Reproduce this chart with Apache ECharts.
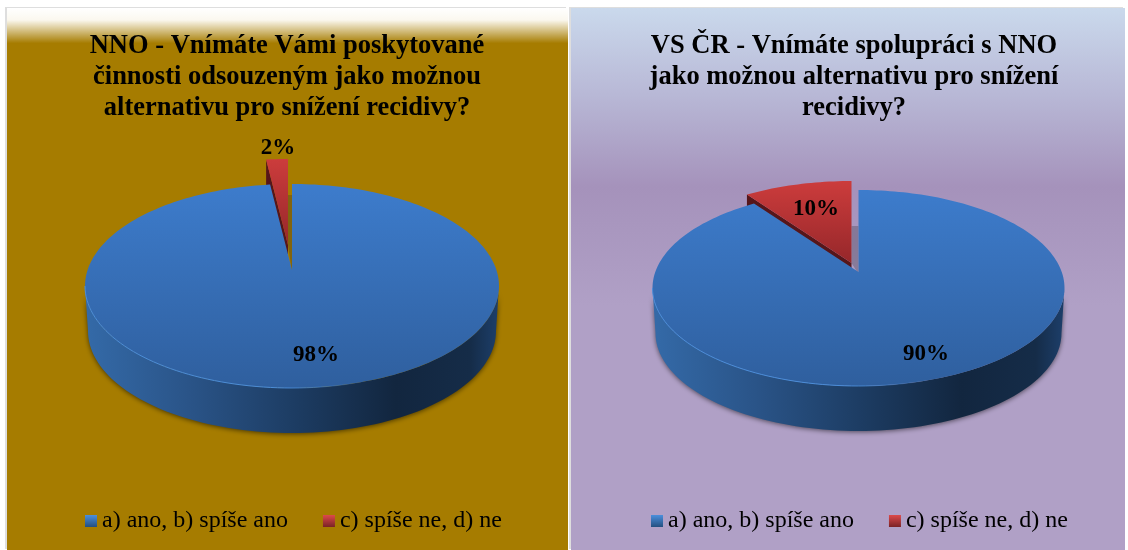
<!DOCTYPE html>
<html>
<head>
<meta charset="utf-8">
<title>NNO / VS ČR</title>
<script src="https://cdn.jsdelivr.net/npm/echarts@6/dist/echarts.min.js"></script>
<style>
  html, body { margin: 0; padding: 0; background: #fff; }
  .panel { position: absolute; top: 8px; height: 542px; box-shadow: -2px -1px 0 #dedede; }
  #nno { left: 7px; width: 561px; }
  #vs { left: 571px; width: 554px; }
</style>
</head>
<body>
<div id="nno" class="panel"></div>
<div id="vs" class="panel"></div>
<script>
// kategorie a hodnoty
const categories = ['a) ano, b) spíše ano', 'c) spíše ne, d) ne']
const nnoValues = [98, 2]
const vsValues = [90, 10]
const nnoTitle = 'NNO - Vnímáte Vámi poskytované\nčinnosti odsouzeným jako možnou\nalternativu pro snížení recidivy?'
const vsTitle = 'VS ČR - Vnímáte spolupráci s NNO\njako možnou alternativu pro snížení\nrecidivy?'

const FONT = '"Liberation Serif", "Times New Roman", serif'

const vGrad = (a, b) => ({ type: 'linear', x: 0, y: 0, x2: 0, y2: 1, colorStops: [{ offset: 0, color: a }, { offset: 1, color: b }] })

// bod na okraji elipsy pro daný úhel (0 = nahoře, po směru hodin), střed výseče je kvůli perspektivě nad středem elipsy
const rimPoint = (deg, p, cx, cy) => {
  const a = deg * Math.PI / 180
  const dx = Math.sin(a) * p.rx
  const dy = -Math.cos(a) * p.ry
  const A = (dx * dx) / (p.rx * p.rx) + (dy * dy) / (p.ry * p.ry)
  const B = 2 * dy * p.apexUp * -1 / (p.ry * p.ry)
  const C = (p.apexUp * p.apexUp) / (p.ry * p.ry) - 1
  const t = (-B + Math.sqrt(B * B - 4 * A * C)) / (2 * A)
  return [cx + dx * t, cy - p.apexUp + dy * t]
}

const arcPoints = (from, to, p, cx, cy) => {
  const pts = []
  for (let d = from; d <= to + 0.001; d += 1.5) pts.push(rimPoint(Math.min(d, to), p, cx, cy))
  pts.push(rimPoint(to, p, cx, cy))
  return pts
}

const ellipsePoints = (from, to, cx, cy, rx, ry) => {
  const pts = []
  for (let d = from; d <= to; d += 2) {
    const a = d * Math.PI / 180
    pts.push([cx + Math.cos(a) * rx, cy + Math.sin(a) * ry])
  }
  return pts
}

const renderBlue = (p) => (params, api) => {
  const sweep = api.value(0) * 3.6
  const apex = [p.cx, p.cy - p.apexUp]
  const lower = ellipsePoints(0, 180, p.cx, p.cy, p.rx, p.ry)
  const bottom = ellipsePoints(0, 180, p.cx, p.cy + p.depth, p.rx - 3, p.ry).reverse()
  return {
    type: 'group',
    children: [
      {
        type: 'polygon', z2: 2,
        shape: { points: lower.concat(bottom) },
        style: {
          fill: {
            type: 'linear', x: 0, y: 0, x2: 1, y2: 0,
            colorStops: [
              { offset: 0, color: '#346aa8' }, { offset: 0.25, color: '#2a5488' },
              { offset: 0.5, color: '#1d3d64' }, { offset: 0.75, color: '#12263f' },
              { offset: 0.93, color: '#152c48' }, { offset: 1, color: '#1d3f6b' }
            ]
          },
          shadowBlur: 5, shadowColor: 'rgba(0,0,0,0.55)', shadowOffsetY: 1
        }
      },
      {
        type: 'polygon', z2: 3,
        shape: { points: [apex].concat(arcPoints(0, sweep, p, p.cx, p.cy)) },
        style: { fill: vGrad('#3d7ccc', '#2f5f9e') }
      },
      {
        type: 'polyline', z2: 4,
        shape: { points: ellipsePoints(70, 180, p.cx, p.cy, p.rx, p.ry) },
        style: {
          fill: null, lineWidth: 1,
          stroke: {
            type: 'linear', x: 0, y: 0, x2: 1, y2: 0,
            colorStops: [{ offset: 0, color: '#4a8cd8' }, { offset: 0.7, color: '#4a8cd8' }, { offset: 1, color: 'rgba(74,140,216,0)' }]
          }
        }
      },
      {
        type: 'text', z2: 6, x: p.bigLabel[0], y: p.bigLabel[1],
        style: { text: api.value(0) + '%', font: 'bold 23px ' + FONT, fill: '#000', align: 'center', verticalAlign: 'middle' }
      }
    ]
  }
}

const renderRed = (p) => (params, api) => {
  const sweep = api.value(0) * 3.6
  const rc = { cx: p.cx + p.explode[0], cy: p.cy + p.explode[1] }
  const apex = [rc.cx, rc.cy - p.apexUp]
  const arc = arcPoints(360 - sweep, 360, p, rc.cx, rc.cy)
  const first = arc[0]
  return {
    type: 'group',
    children: [
      // stín vnitřní stěny modré části
      {
        type: 'polygon', z2: 0,
        shape: { points: [[rc.cx, p.shadeTop], [p.cx, p.shadeTop], [p.cx, p.cy - p.apexUp + 2], [rc.cx, apex[1]]] },
        style: { fill: 'rgba(40,40,50,0.28)' }
      },
      {
        type: 'polygon', z2: 1,
        shape: { points: [first, [first[0], first[1] + p.depth], [apex[0], apex[1] + p.depth], apex] },
        style: { fill: '#56161a' }
      },
      {
        type: 'polygon', z2: 5,
        shape: { points: [apex].concat(arc) },
        style: { fill: vGrad('#cc3c3c', '#96272a') }
      },
      {
        type: 'text', z2: 6, x: p.smallLabel[0], y: p.smallLabel[1],
        style: { text: api.value(0) + '%', font: 'bold 23px ' + FONT, fill: '#000', align: 'center', verticalAlign: 'middle' }
      }
    ]
  }
}

const drawPanel = (id, cfg) => {
  const chart = echarts.init(document.getElementById(id), null, { renderer: 'canvas' })
  chart.setOption({
    animation: false,
    backgroundColor: { type: 'linear', x: 0, y: 0, x2: 0, y2: 1, colorStops: cfg.background },
    title: {
      text: cfg.title,
      left: cfg.titleX,
      top: 18,
      textAlign: 'center',
      textStyle: { fontFamily: FONT, fontWeight: 'bold', fontSize: 26.5, lineHeight: 31, color: '#000' }
    },
    legend: {
      left: cfg.legendX,
      top: 496,
      icon: 'rect',
      itemWidth: 12,
      itemHeight: 12,
      itemGap: 35,
      textStyle: { fontFamily: FONT, fontSize: 24, color: '#000' },
      data: [
        { name: categories[0], itemStyle: { color: vGrad('#4b8fdc', '#234f80') } },
        { name: categories[1], itemStyle: { color: vGrad('#dc4a4a', '#7a2226') } }
      ]
    },
    series: [
      { type: 'custom', name: categories[0], coordinateSystem: 'none', renderItem: renderBlue(cfg.pie), data: [[cfg.values[0]]], silent: true },
      { type: 'custom', name: categories[1], coordinateSystem: 'none', renderItem: renderRed(cfg.pie), data: [[cfg.values[1]]], silent: true }
    ]
  })
  return chart
}

drawPanel('nno', {
  title: nnoTitle,
  values: nnoValues,
  titleX: 275,
  legendX: 73,
  background: [
    { offset: 0, color: '#ffffff' }, { offset: 0.022, color: '#fbf8ef' },
    { offset: 0.065, color: '#a67c00' }, { offset: 1, color: '#a67c00' }
  ],
  pie: { cx: 285, cy: 278, rx: 207, ry: 102, apexUp: 16, depth: 45, explode: [-4, -25], shadeTop: 187, bigLabel: [309, 347], smallLabel: [271, 140] }
})

drawPanel('vs', {
  title: vsTitle,
  values: vsValues,
  titleX: 278,
  legendX: 75,
  background: [
    { offset: 0, color: '#cad9ec' }, { offset: 0.16, color: '#b8b8d6' },
    { offset: 0.33, color: '#a592bb' }, { offset: 0.55, color: '#b0a0c6' }, { offset: 1, color: '#b0a0c6' }
  ],
  pie: { cx: 287.5, cy: 280, rx: 206, ry: 98, apexUp: 16, depth: 45, explode: [-7, -9], shadeTop: 218, bigLabel: [355, 346], smallLabel: [245, 201] }
})
</script>
</body>
</html>
